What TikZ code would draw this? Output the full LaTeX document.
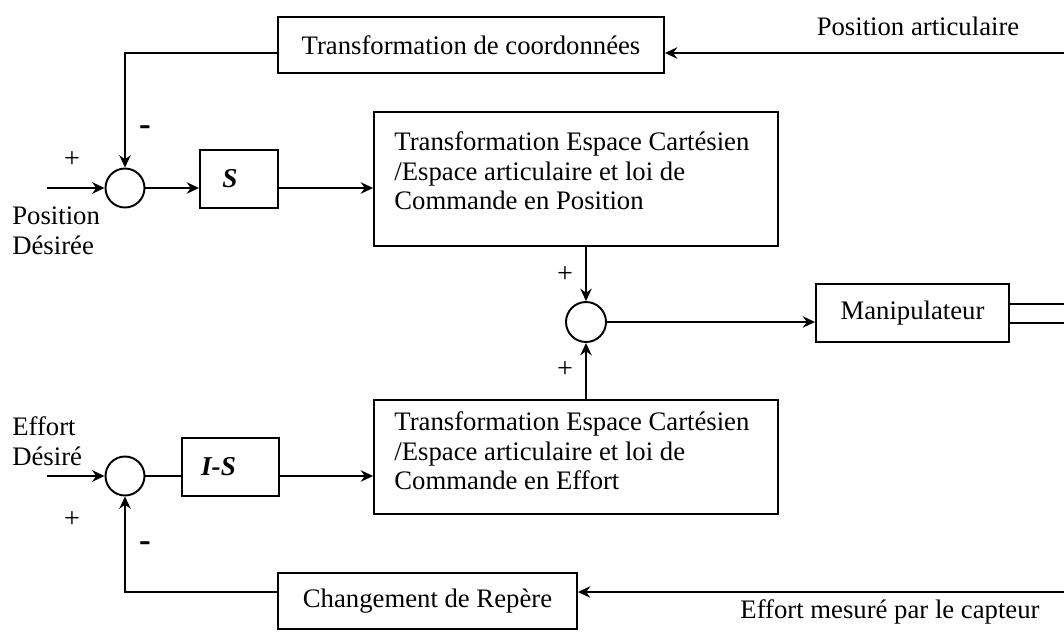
\documentclass[tikz,border=0pt]{standalone}
\usepackage{fontspec}
\setmainfont{Liberation Serif}
\usetikzlibrary{arrows.meta,positioning}
\tikzset{
  bloc/.style={draw,line width=1.1pt,inner sep=0pt,font=\fontsize{15.2}{17}\selectfont},
  gain/.style={bloc,font=\bfseries\itshape\fontsize{15.5}{17}\selectfont},
  somme/.style={draw,line width=1.1pt,circle,minimum size=0.78cm,inner sep=0pt},
  fleche/.style={line width=1.1pt,-{Stealth[length=7pt,width=6.5pt]}},
  retour/.style={fleche,line width=1.6pt},
  lien/.style={line width=1.1pt},
  texte/.style={font=\fontsize{15.2}{17}\selectfont,inner sep=0pt,align=left},
  plus/.style={font=\fontsize{16}{17}\selectfont,inner sep=0pt},
  moins/.style={font=\bfseries\fontsize{20}{17}\selectfont,inner sep=0pt},
}

\begin{document}
\begin{tikzpicture}[x=0.02cm,y=-0.02cm]
\useasboundingbox (0,0) rectangle (1064,632);

\node[bloc,minimum width=7.72cm,minimum height=1.12cm] (coord) at (471,45) {Transformation de coordonnées};
\node[somme] (s1) at (125,188) {};
\node[gain,minimum width=1.56cm,minimum height=1.16cm] (S) at (239,179) {S\hspace*{0.36cm}};
\node[bloc,minimum width=8.08cm,minimum height=2.68cm] (cpos) at (576,179) {};
\node[texte,anchor=north west] (tpos) at ([xshift=0.42cm,yshift=-0.4cm]cpos.north west)
  {Transformation Espace Cartésien\\/Espace articulaire et loi de\\Commande en Position};
\node[somme,minimum size=0.8cm] (s3) at (586,322) {};
\node[bloc,minimum width=3.86cm,minimum height=1.16cm] (manip) at (912.5,313) {Manipulateur};
\node[bloc,minimum width=8.08cm,minimum height=2.28cm] (ceff) at (576,457) {};
\node[texte,anchor=north west] (teff) at ([xshift=0.42cm,yshift=-0.24cm]ceff.north west)
  {Transformation Espace Cartésien\\/Espace articulaire et loi de\\Commande en Effort};
\node[somme] (s2) at (125,476) {};
\node[gain,minimum width=1.94cm,minimum height=1.16cm] (IS) at (230.5,467) {I-S\hspace*{0.48cm}};
\node[bloc,minimum width=5.98cm,minimum height=1.12cm] (rep) at (427.5,601) {Changement de Repère};

\coordinate (inpos) at (47,188);
\coordinate (ineff) at (47,476);
\coordinate (retpos) at (1064,53);
\coordinate (reteff) at (1064,592);
\coordinate (out1) at (1064,304);
\coordinate (out2) at (1064,323);

\node[texte,anchor=west] (lpos) at (12,231) {Position\\Désirée};
\node[texte,anchor=west] (leff) at (12,441) {Effort\\Désiré};
\node[texte] (lart) at (918,26) {Position articulaire};
\node[texte] (lmes) at (890,612) {Effort mesuré par le capteur};
\node[plus] (p1) at (72,160) {+};
\node[plus] (p2) at (72,520) {+};
\node[plus] (p3) at (565,275) {+};
\node[plus] (p4) at (565,370) {+};
\node[moins] (m1) at (145,131) {-};
\node[moins] (m2) at (145,547) {-};

\draw[fleche] (inpos) -- (s1);
\draw[fleche] (s1) -- (s1 -| S.west);
\draw[fleche] (S.east |- s1) -- (s1 -| cpos.west);
\draw[retour] (retpos) -- (retpos -| coord.east);
\draw[fleche] (retpos -| coord.west) -| (s1);
\draw[fleche] (cpos.south -| s3) -- (s3);
\draw[fleche] (ceff.north -| s3) -- (s3);
\draw[fleche] (s3) -- (s3 -| manip.west);
\draw[lien] (manip.east |- out1) -- (out1);
\draw[lien] (manip.east |- out2) -- (out2);
\draw[fleche] (ineff) -- (s2);
\draw[lien] (s2) -- (s2 -| IS.west);
\draw[fleche] (IS.east |- s2) -- (s2 -| ceff.west);
\draw[retour] (reteff) -- (reteff -| rep.east);
\draw[fleche] (reteff -| rep.west) -| (s2);
\end{tikzpicture}
\end{document}
